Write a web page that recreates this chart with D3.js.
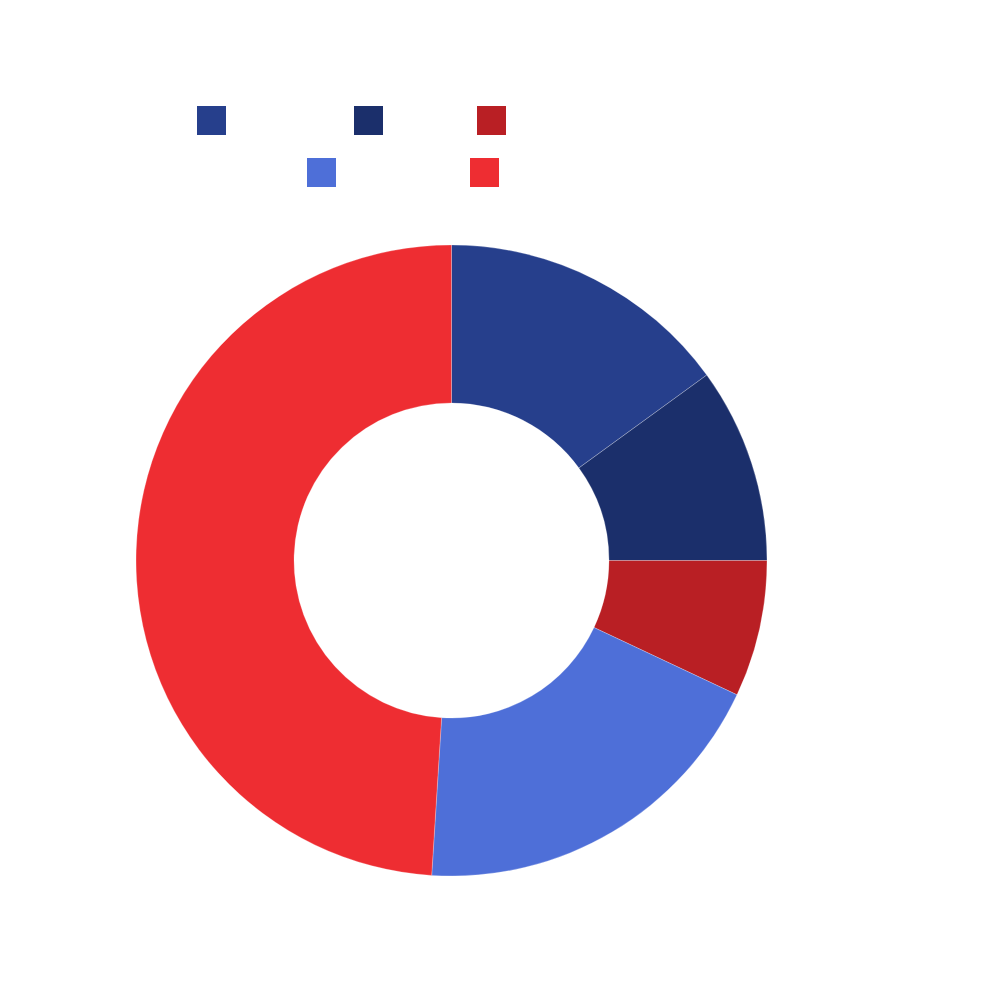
<!DOCTYPE html>
<html>
<head>
<meta charset="utf-8">
<script src="https://cdn.jsdelivr.net/npm/d3@7"></script>
<style>
  html, body { margin: 0; padding: 0; background: #ffffff; }
  svg { display: block; }
</style>
</head>
<body>
<svg id="chart" width="1000" height="1000"></svg>
<script>
// Data
const categories = ["Category A", "Category B", "Category C", "Category D", "Category E"];
const values = [15, 10, 7, 19, 49];
const colors = ["#263F8C", "#1B2F6B", "#B91F24", "#4E6FD8", "#EE2D32"];

// Layout (legend positions, not data)
const legendLayout = [
  {x: 197, y: 106}, {x: 354, y: 106}, {x: 477, y: 106},
  {x: 307, y: 158}, {x: 470, y: 158}
];

const svg = d3.select("#chart");
const cx = 451.5, cy = 560.5, outerR = 315.5, innerR = 157.5;

const color = d3.scaleOrdinal().domain(categories).range(colors);

const pie = d3.pie().sort(null).value(d => d.value);
const arc = d3.arc().innerRadius(innerR).outerRadius(outerR);

const data = categories.map((c, i) => ({category: c, value: values[i]}));

svg.append("g")
  .attr("transform", `translate(${cx},${cy})`)
  .selectAll("path")
  .data(pie(data))
  .join("path")
  .attr("d", arc)
  .attr("fill", d => color(d.data.category))
  .attr("stroke", "#ffffff")
  .attr("stroke-opacity", 0.35)
  .attr("stroke-width", 0.7);

const legend = svg.append("g");
const items = legend.selectAll("g")
  .data(data)
  .join("g")
  .attr("transform", (d, i) => `translate(${legendLayout[i].x},${legendLayout[i].y})`);
items.append("rect")
  .attr("width", 29).attr("height", 29)
  .attr("fill", d => color(d.category));
items.append("text")
  .attr("x", 38).attr("y", 20)
  .attr("font-family", "Roboto, sans-serif")
  .attr("font-size", 16)
  .attr("fill", "#ffffff")
  .text(d => d.category);
</script>
</body>
</html>
